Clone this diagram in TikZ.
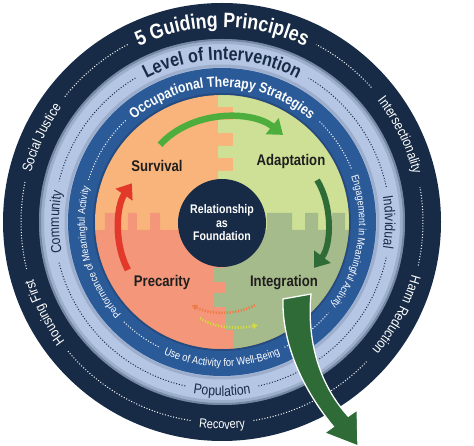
\documentclass[tikz,border=0pt]{standalone}
\usepackage{fontspec}
\setmainfont{Liberation Sans}[FakeStretch=0.85]
\usetikzlibrary{decorations.text,arrows.meta}

\definecolor{navy}{HTML}{172B46}
\definecolor{paleblue}{HTML}{B4C6E4}
\definecolor{ringblue}{HTML}{2B5A98}
\definecolor{peach}{HTML}{F9B47C}
\definecolor{salmon}{HTML}{F3967A}
\definecolor{lime}{HTML}{CDE096}
\definecolor{sage}{HTML}{A6BB8B}
\definecolor{leafgreen}{HTML}{4DAE3E}
\definecolor{forest}{HTML}{2F6B36}
\definecolor{alarm}{HTML}{E2392B}
\definecolor{ink}{HTML}{1E1E1E}
\definecolor{dotorange}{HTML}{F07A45}
\definecolor{dotyellow}{HTML}{D2DA3C}

% text set along a circle: radius, from, to, colour, font, text
\newcommand{\ringtext}[6]{%
  \path[decorate, decoration={text along path, text align=center,
    text color=#4, text={|#5|#6}}]
    (#2:#1) arc[start angle=#2, end angle=#3, radius=#1];}
% dotted piece of a ring: radius, from, to, style
\newcommand{\ringdots}[4]{%
  \draw[#4] (#2:#1) arc[start angle=#2, end angle=#3, radius=#1];}

\tikzset{
  phase/.style={font=\bfseries\fontsize{15.5}{16}\selectfont, text=ink, inner sep=0pt},
  wdots/.style={white, line width=1bp, dash pattern=on 1bp off 1.8bp},
  ndots/.style={navy, line width=1bp, dash pattern=on 1bp off 1.8bp},
  bigtip/.style={-{Triangle[length=14pt,width=20pt]}},
  dottip/.style={line width=2.6bp, dash pattern=on 1.3bp off 1.5bp,
    -{Triangle[length=5pt,width=6pt]}}
}

\begin{document}
\begin{tikzpicture}[x=1bp,y=1bp]
\useasboundingbox (-222,-224) rectangle (252,222);

% rings
\fill[navy] (0,0) circle (219);
\fill[paleblue] (0,0) circle (183);
\draw[navy, opacity=.4, line width=2] (0,0) circle (182);
\draw[navy, opacity=.15, line width=3] (0,0) circle (179.5);
\fill[ringblue] (0,0) circle (154);
\draw[navy, opacity=.15, line width=3] (0,0) circle (156);

% 5 guiding principles
\ringdots{201}{42}{62}{wdots}
\ringdots{201}{118}{141.5}{wdots}
\ringdots{201}{168.5}{194}{wdots}
\ringdots{201}{220}{261}{wdots}
\ringdots{201}{279}{316.5}{wdots}
\ringdots{201}{347.5}{370}{wdots}
\ringtext{194.5}{150}{30}{white}{\bfseries\fontsize{21}{21}\selectfont}{5 Guiding Principles}
\ringtext{197}{185}{125}{white}{\fontsize{14}{14}\selectfont}{Social Justice}
\ringtext{197}{56}{-4}{white}{\fontsize{14}{14}\selectfont}{Intersectionality}
\ringtext{197}{237}{177}{white}{\fontsize{14}{14}\selectfont}{Housing First}
\ringtext{197}{2}{-58}{white}{\fontsize{14}{14}\selectfont}{Harm Reduction}
\ringtext{207}{240}{300}{white}{\fontsize{13}{13}\selectfont}{Recovery}

% level of intervention
\ringdots{168}{12}{59}{ndots}
\ringdots{168}{121}{166}{ndots}
\ringdots{168}{194}{257.5}{ndots}
\ringdots{168}{282.5}{348}{ndots}
\ringtext{162}{140}{40}{navy}{\bfseries\fontsize{19}{19}\selectfont}{Level of Intervention}
\ringtext{163}{210}{150}{navy}{\fontsize{14.5}{14.5}\selectfont}{Community}
\ringtext{163}{30}{-30}{navy}{\fontsize{14.5}{14.5}\selectfont}{Individual}
\ringtext{174}{240}{300}{navy}{\fontsize{14.5}{14.5}\selectfont}{Population}

% occupational therapy strategies
\ringdots{140}{22.5}{46.5}{wdots}
\ringdots{140}{133.5}{162.5}{wdots}
\ringdots{140}{225.5}{243.5}{wdots}
\ringdots{140}{296.5}{319.5}{wdots}
\ringtext{135}{140}{40}{white}{\bfseries\fontsize{14.5}{14.5}\selectfont}{Occupational Therapy Strategies}
\ringtext{137}{234}{154}{white}{\fontsize{10.5}{10.5}\selectfont}{Performance of Meaningful Activity}
\ringtext{137}{31}{-49}{white}{\fontsize{10.5}{10.5}\selectfont}{Engagement in Meaningful Activity}
\ringtext{144.5}{235}{305}{white}{\fontsize{11}{11}\selectfont}{Use of Activity for Well-Being}

% four stages
\begin{scope}
\clip (0,0) circle (127);
\fill[peach] (-130,-130) rectangle (130,130);
\fill[salmon] (-130,-8) -- (-117,-8) -- (-117,9) -- (-107,9) -- (-107,-8)
  -- (-94,-8) -- (-94,9) -- (-85,9) -- (-85,-8) -- (-72,-8) -- (-72,9)
  -- (-62,9) -- (-62,-8) -- (20,-8) -- (20,-130) -- (-130,-130) -- cycle;
\fill[lime] (-4,130) -- (-4,115) -- (11,115) -- (11,102) -- (-4,102)
  -- (-4,89) -- (11,89) -- (11,76) -- (-4,76) -- (-4,64) -- (11,64)
  -- (11,51) -- (-4,51) -- (-4,-8) -- (130,-8) -- (130,130) -- cycle;
\fill[sage] (130,-8) -- (123,-8) -- (123,9) -- (110,9) -- (110,-8)
  -- (96,-8) -- (96,9) -- (83,9) -- (83,-8) -- (70,-8) -- (70,9)
  -- (45,9) -- (45,-8) -- (4,-8) -- (4,-46) -- (-8,-46) -- (-8,-60)
  -- (4,-60) -- (4,-71) -- (-8,-71) -- (-8,-85) -- (4,-85) -- (4,-108)
  -- (11,-108) -- (11,-128) -- (4,-128) -- (4,-130) -- (130,-130) -- cycle;
\end{scope}
\draw[navy, opacity=.3, line width=2] (0,0) circle (128);

\node[circle, fill=navy, minimum size=88bp, inner sep=0pt, text=white, align=center,
  font=\bfseries\fontsize{12.5}{13.5}\selectfont] (rel) at (0,-1) {Relationship\\as\\Foundation};

\node[phase] (surv) at (-65,56) {Survival};
\node[phase] (adapt) at (69,60) {Adaptation};
\node[phase] (prec) at (-60,-61) {Precarity};
\node[phase] (integ) at (62,-61) {Integration};

% cycle arrows
\draw[leafgreen, line width=6.5, bigtip] ([shift={(3,15.4)}]surv.north)
  .. controls +(32,35) and +(-31,25) .. ([shift={(-8,19.7)}]adapt.north);
\draw[forest, line width=6, bigtip] ([shift={(-8.4,-10.7)}]adapt.south east)
  .. controls +(15,-24) and +(18,24) .. ([shift={(-4,7.7)}]integ.north east);
\draw[alarm, line width=6.5, bigtip] ([shift={(-5.8,5.7)}]prec.north west)
  .. controls +(-14,26) and +(-16,-23) .. ([shift={(0.7,-11.4)}]surv.south west);
\draw[dotorange, dottip] ([shift={(5,-14.7)}]integ.south west)
  .. controls +(-18,-10) and +(18,-10) .. ([shift={(1.8,-14.7)}]prec.south east);
\draw[dotyellow, dottip] ([shift={(9.8,-27.7)}]prec.south east)
  .. controls +(14,-10) and +(-21,-4) .. ([shift={(8,-34.7)}]integ.south west);

% way out
\draw[white, line width=1.3, fill=forest] (61,-77)
  .. controls (60,-115) and (75,-160) .. (111.4,-204.6)
  -- (102.4,-210.9) -- (136,-224) -- (135.2,-187.9) -- (126.2,-194.2)
  .. controls (95,-160) and (85,-115) .. (89,-72) -- cycle;
\end{tikzpicture}
\end{document}
